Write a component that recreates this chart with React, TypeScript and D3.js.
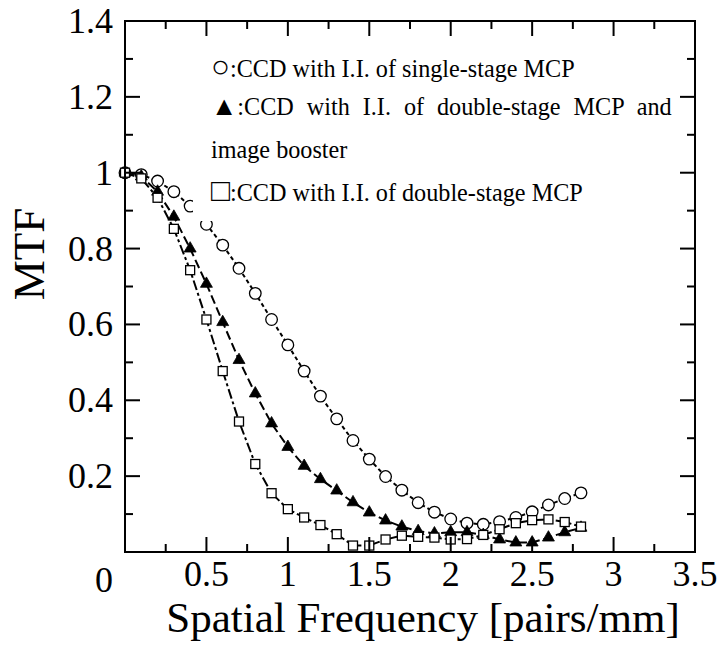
import React, { useLayoutEffect, useRef, useState } from "react";
import * as d3 from "d3";

const freq = [0, 0.1, 0.2, 0.3, 0.4, 0.5, 0.6, 0.7, 0.8, 0.9, 1.0, 1.1, 1.2, 1.3, 1.4, 1.5, 1.6, 1.7, 1.8, 1.9, 2.0, 2.1, 2.2, 2.3, 2.4, 2.5, 2.6, 2.7, 2.8];
const singleStage = [1.0, 0.995, 0.978, 0.95, 0.912, 0.864, 0.809, 0.748, 0.682, 0.613, 0.546, 0.477, 0.411, 0.351, 0.294, 0.245, 0.199, 0.163, 0.13, 0.105, 0.087, 0.076, 0.073, 0.08, 0.091, 0.106, 0.124, 0.141, 0.156];
const doubleBooster = [1.0, 0.99, 0.95, 0.884, 0.8, 0.707, 0.606, 0.506, 0.418, 0.339, 0.277, 0.227, 0.192, 0.162, 0.131, 0.104, 0.083, 0.067, 0.055, 0.049, 0.052, 0.052, 0.045, 0.033, 0.025, 0.025, 0.038, 0.052, 0.064];
const doubleStage = [1.0, 0.985, 0.934, 0.852, 0.743, 0.613, 0.477, 0.344, 0.232, 0.155, 0.113, 0.091, 0.071, 0.047, 0.017, 0.017, 0.033, 0.043, 0.04, 0.038, 0.033, 0.034, 0.045, 0.06, 0.076, 0.084, 0.086, 0.079, 0.067];

const xTickLabels = ["0.5", "1", "1.5", "2", "2.5", "3", "3.5"];
const yTickLabels = ["0.2", "0.4", "0.6", "0.8", "1", "1.2", "1.4"];
const legendSym1 = "○";
const legendText1 = ":CCD with I.I. of single-stage MCP";
const legendSym2 = "▲";
const legendText2 = ":CCD with I.I. of double-stage MCP and";
const legendText3 = "image booster";
const legendSym4 = "□";
const legendText4 = ":CCD with I.I. of double-stage MCP";
const xTitle = "Spatial Frequency [pairs/mm]";
const yTitle = "MTF";

const FONT = '"Liberation Serif", "DejaVu Serif", serif';

export default function App() {
  const x = d3.scaleLinear().domain([0, 3.5]).range([125, 695]);
  const y = d3.scaleLinear().domain([0, 1.4]).range([552, 21]);
  const line1Ref = useRef<SVGTextElement>(null);
  const line2Ref = useRef<SVGTextElement>(null);
  const [legendSize, setLegendSize] = useState(20);
  const [wordSpacing, setWordSpacing] = useState(0);

  useLayoutEffect(() => {
    const e1 = line1Ref.current;
    const e2 = line2Ref.current;
    if (!e1 || !e2) return;
    const w1 = e1.getComputedTextLength();
    const k = 364 / w1;
    const size = 20 * k;
    const w2 = e2.getComputedTextLength() * k;
    const spaces = legendText2.split(" ").length - 1;
    setLegendSize(size);
    setWordSpacing(Math.max(0, (672 - 211 - w2) / spaces));
  }, []);

  const makeLine = (vals: number[]) =>
    d3.line<number>().x((_, i) => x(freq[i])).y((v) => y(v))(vals) || "";

  const triSym = d3.symbol().type(d3.symbolTriangle).size(62)() || "";

  const xMajor = d3.range(0, 3.5001, 0.5);
  const xMinor = d3.range(0.25, 3.5, 0.5);
  const yMajor = d3.range(0, 1.4001, 0.2);
  const yMinor = d3.range(0.1, 1.4, 0.2);
  const L = 125, R = 695, T = 21, B = 552;

  return (
    <svg width={723} height={648} style={{ position: "absolute", left: 0, top: 0, background: "#fff", fontFamily: FONT }}>
      <rect x={0} y={0} width={723} height={648} fill="#fff" />
      <path d={makeLine(singleStage)} fill="none" stroke="#000" strokeWidth={2} strokeDasharray="4,3" />
      <path d={makeLine(doubleBooster)} fill="none" stroke="#000" strokeWidth={2} strokeDasharray="9,4" />
      <path d={makeLine(doubleStage)} fill="none" stroke="#000" strokeWidth={2} strokeDasharray="10,3,3,3" />
      {singleStage.map((v, i) => (
        <circle key={"c" + i} cx={x(freq[i])} cy={y(v)} r={5.8} fill="#fff" stroke="#000" strokeWidth={1.3} />
      ))}
      {doubleBooster.map((v, i) => (
        <path key={"t" + i} d={triSym} transform={`translate(${x(freq[i])},${y(v)})`} fill="#000" stroke="#000" strokeWidth={0.8} />
      ))}
      {doubleStage.map((v, i) => (
        <rect key={"s" + i} x={x(freq[i]) - 4.5} y={y(v) - 4.5} width={9} height={9} fill="#fff" stroke="#000" strokeWidth={1.3} />
      ))}
      <rect x={193} y={32} width={484} height={189} fill="#fff" />
      <g fontSize={legendSize} fill="#000" style={{ fontFamily: FONT }}>
        <text ref={line1Ref} x={211} y={77}>
          <tspan fontSize="1.3em">{legendSym1}</tspan>{legendText1}
        </text>
        <text ref={line2Ref} x={211} y={115} style={{ wordSpacing: `${wordSpacing}px` }}>
          <tspan fontSize="1.1em">{legendSym2}</tspan>{legendText2}
        </text>
        <text x={211} y={158}>{legendText3}</text>
        <text x={211} y={201}>
          <tspan fontSize="1.3em">{legendSym4}</tspan>{legendText4}
        </text>
      </g>
      <g stroke="#000" strokeWidth={2} fill="none">
        <rect x={L} y={T} width={R - L} height={B - T} />
        {xMajor.map((t) => (
          <g key={"xM" + t}>
            <line x1={x(t)} x2={x(t)} y1={B} y2={B - 15} />
            <line x1={x(t)} x2={x(t)} y1={T} y2={T + 15} />
          </g>
        ))}
        {xMinor.map((t) => (
          <g key={"xm" + t}>
            <line x1={x(t)} x2={x(t)} y1={B} y2={B - 8} />
            <line x1={x(t)} x2={x(t)} y1={T} y2={T + 8} />
          </g>
        ))}
        {yMajor.map((t) => (
          <g key={"yM" + t}>
            <line x1={L} x2={L + 15} y1={y(t)} y2={y(t)} />
            <line x1={R} x2={R - 15} y1={y(t)} y2={y(t)} />
          </g>
        ))}
        {yMinor.map((t) => (
          <g key={"ym" + t}>
            <line x1={L} x2={L + 8} y1={y(t)} y2={y(t)} />
            <line x1={R} x2={R - 8} y1={y(t)} y2={y(t)} />
          </g>
        ))}
      </g>
      <g fontSize={36} fill="#000" style={{ fontFamily: FONT }}>
        {xTickLabels.map((s) => (
          <text key={"xl" + s} x={x(+s)} y={586} textAnchor="middle">{s}</text>
        ))}
        {yTickLabels.map((s) => (
          <text key={"yl" + s} x={113} y={y(+s) + 12} textAnchor="end">{s}</text>
        ))}
        <text x={113} y={592} textAnchor="end">0</text>
      </g>
      <text x={423} y={632} fontSize={43} textAnchor="middle" fill="#000" style={{ fontFamily: FONT }}>{xTitle}</text>
      <text transform="translate(44,254) rotate(-90)" fontSize={45} textAnchor="middle" fill="#000" style={{ fontFamily: FONT }}>{yTitle}</text>
    </svg>
  );
}
